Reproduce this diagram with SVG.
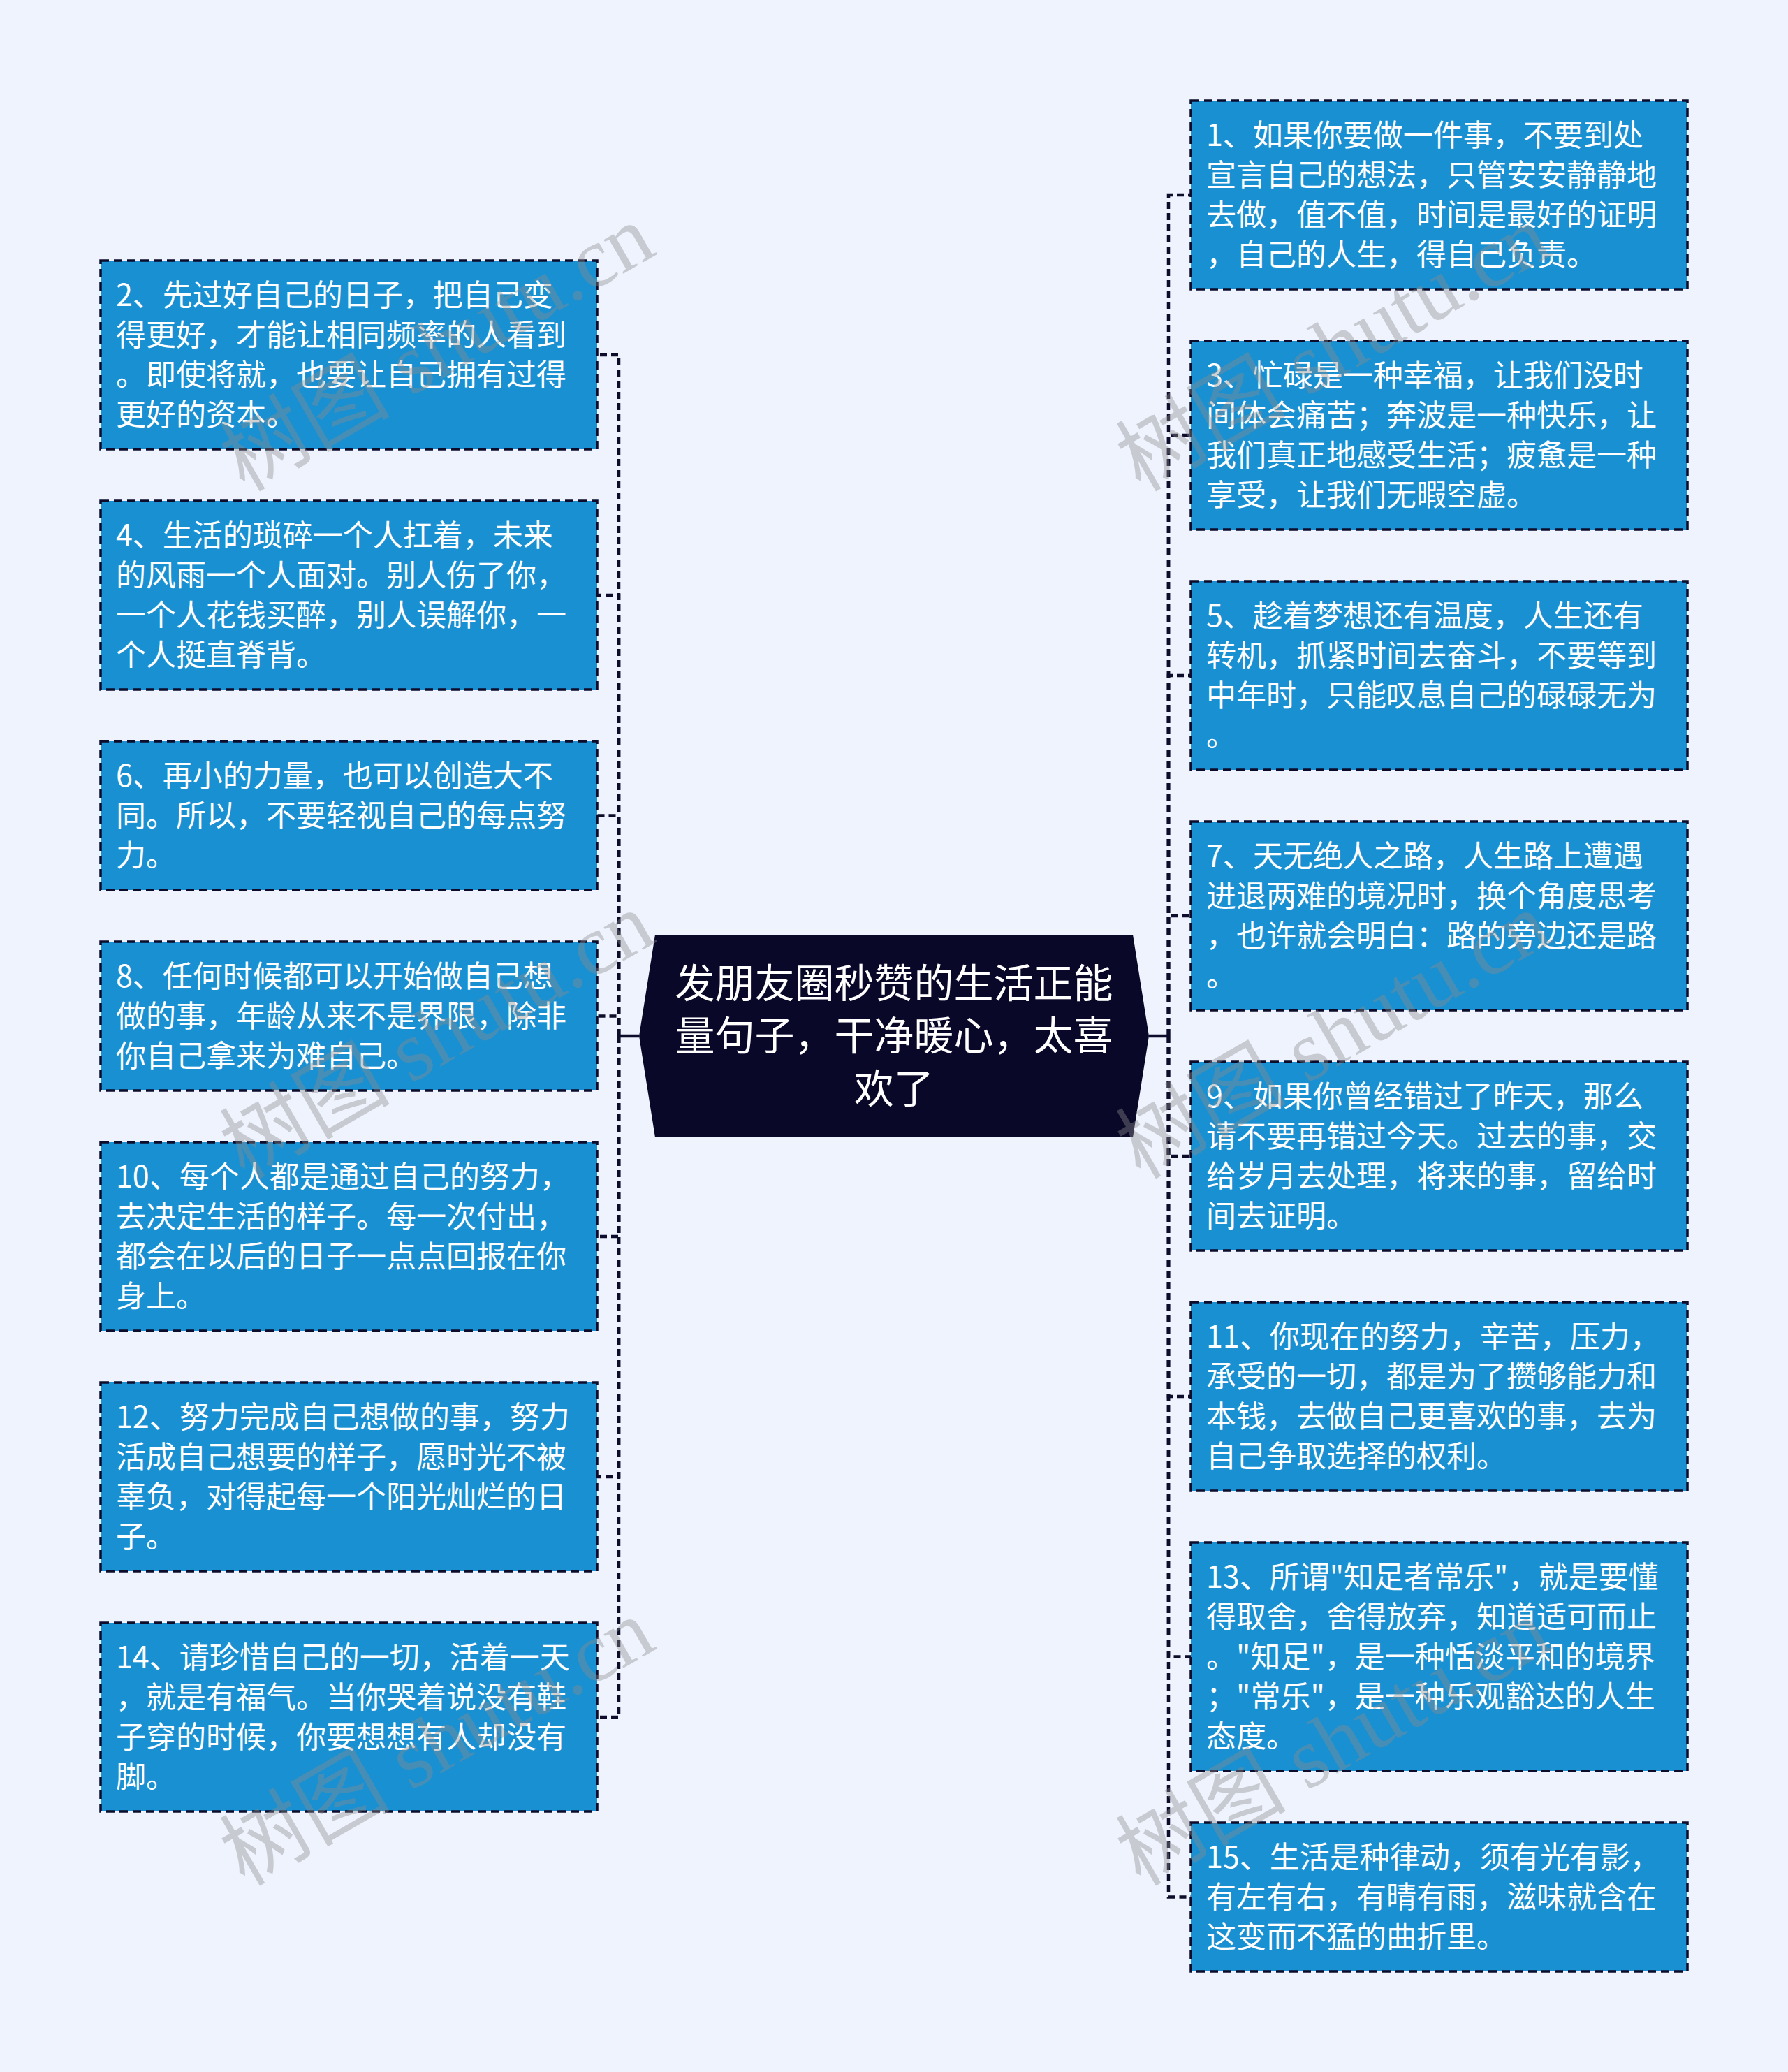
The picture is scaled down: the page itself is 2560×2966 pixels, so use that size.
<svg xmlns="http://www.w3.org/2000/svg" width="2560" height="2966" viewBox="0 0 2560 2966">
<style>
.bg{fill:#EEF3FD}
.box{fill:#1890D2;stroke:#0D0D2B;stroke-width:3.5;stroke-dasharray:12 7}
.t{font-family:"Noto Sans CJK SC","Liberation Sans",sans-serif;font-size:43px;fill:#FFFFFF}
.ct{font-family:"Noto Sans CJK SC","Liberation Sans",sans-serif;font-size:57px;fill:#FFFFFF;text-anchor:middle}
.root{fill:#0A0828}
.conn path{fill:none;stroke:#0D0D2B;stroke-width:4.5;stroke-dasharray:10 6}
.conn .stub{stroke-dasharray:none}
.wm{font-family:"Liberation Serif","Noto Sans CJK SC",serif;font-size:122px;fill:#8C8C8C;fill-opacity:0.4}
</style>
<rect class="bg" x="0" y="0" width="2560" height="2966"/>

<g id="connectors" class="conn">
<path class="stub" d="M915 1483 H886"/>
<path class="stub" d="M1645 1483 H1673"/>
<path d="M886 1483 V508 H855"/>
<path d="M886 1483 V852 H855"/>
<path d="M886 1483 V1167.5 H855"/>
<path d="M886 1483 V1454.5 H855"/>
<path d="M886 1483 V1770 H855"/>
<path d="M886 1483 V2114 H855"/>
<path d="M886 1483 V2458 H855"/>
<path d="M1673 1483 V279 H1705"/>
<path d="M1673 1483 V623 H1705"/>
<path d="M1673 1483 V967 H1705"/>
<path d="M1673 1483 V1311 H1705"/>
<path d="M1673 1483 V1655 H1705"/>
<path d="M1673 1483 V1999 H1705"/>
<path d="M1673 1483 V2371.5 H1705"/>
<path d="M1673 1483 V2715.5 H1705"/>
</g>

<g id="root">
<polygon class="root" points="938,1338 1622,1338 1645,1483 1622,1628 938,1628 915,1483"/>
<text class="ct" x="1280" y="1428">发朋友圈秒赞的生活正能</text>
<text class="ct" x="1280" y="1503">量句子，干净暖心，太喜</text>
<text class="ct" x="1280" y="1579">欢了</text>
</g>

<g id="n1">
<rect class="box" x="1705" y="144" width="711" height="270"/>
<text class="t" x="1727" y="209">1、如果你要做一件事，不要到处</text>
<text class="t" x="1727" y="266">宣言自己的想法，只管安安静静地</text>
<text class="t" x="1727" y="323">去做，值不值，时间是最好的证明</text>
<text class="t" x="1727" y="380">，自己的人生，得自己负责。</text>
</g>
<g id="n3">
<rect class="box" x="1705" y="488" width="711" height="270"/>
<text class="t" x="1727" y="553">3、忙碌是一种幸福，让我们没时</text>
<text class="t" x="1727" y="610">间体会痛苦；奔波是一种快乐，让</text>
<text class="t" x="1727" y="667">我们真正地感受生活；疲惫是一种</text>
<text class="t" x="1727" y="724">享受，让我们无暇空虚。</text>
</g>
<g id="n5">
<rect class="box" x="1705" y="832" width="711" height="270"/>
<text class="t" x="1727" y="897">5、趁着梦想还有温度，人生还有</text>
<text class="t" x="1727" y="954">转机，抓紧时间去奋斗，不要等到</text>
<text class="t" x="1727" y="1011">中年时，只能叹息自己的碌碌无为</text>
<text class="t" x="1727" y="1068">。</text>
</g>
<g id="n7">
<rect class="box" x="1705" y="1176" width="711" height="270"/>
<text class="t" x="1727" y="1241">7、天无绝人之路，人生路上遭遇</text>
<text class="t" x="1727" y="1298">进退两难的境况时，换个角度思考</text>
<text class="t" x="1727" y="1355">，也许就会明白：路的旁边还是路</text>
<text class="t" x="1727" y="1412">。</text>
</g>
<g id="n9">
<rect class="box" x="1705" y="1520" width="711" height="270"/>
<text class="t" x="1727" y="1585">9、如果你曾经错过了昨天，那么</text>
<text class="t" x="1727" y="1642">请不要再错过今天。过去的事，交</text>
<text class="t" x="1727" y="1699">给岁月去处理，将来的事，留给时</text>
<text class="t" x="1727" y="1756">间去证明。</text>
</g>
<g id="n11">
<rect class="box" x="1705" y="1864" width="711" height="270"/>
<text class="t" x="1727" y="1929">11、你现在的努力，辛苦，压力，</text>
<text class="t" x="1727" y="1986">承受的一切，都是为了攒够能力和</text>
<text class="t" x="1727" y="2043">本钱，去做自己更喜欢的事，去为</text>
<text class="t" x="1727" y="2100">自己争取选择的权利。</text>
</g>
<g id="n13">
<rect class="box" x="1705" y="2208" width="711" height="327"/>
<text class="t" x="1727" y="2273">13、所谓"知足者常乐"，就是要懂</text>
<text class="t" x="1727" y="2330">得取舍，舍得放弃，知道适可而止</text>
<text class="t" x="1727" y="2387">。"知足"，是一种恬淡平和的境界</text>
<text class="t" x="1727" y="2444">；"常乐"，是一种乐观豁达的人生</text>
<text class="t" x="1727" y="2501">态度。</text>
</g>
<g id="n15">
<rect class="box" x="1705" y="2609" width="711" height="213"/>
<text class="t" x="1727" y="2674">15、生活是种律动，须有光有影，</text>
<text class="t" x="1727" y="2731">有左有右，有晴有雨，滋味就含在</text>
<text class="t" x="1727" y="2788">这变而不猛的曲折里。</text>
</g>

<g id="n2">
<rect class="box" x="144" y="373" width="711" height="270"/>
<text class="t" x="166" y="438">2、先过好自己的日子，把自己变</text>
<text class="t" x="166" y="495">得更好，才能让相同频率的人看到</text>
<text class="t" x="166" y="552">。即使将就，也要让自己拥有过得</text>
<text class="t" x="166" y="609">更好的资本。</text>
</g>
<g id="n4">
<rect class="box" x="144" y="717" width="711" height="270"/>
<text class="t" x="166" y="782">4、生活的琐碎一个人扛着，未来</text>
<text class="t" x="166" y="839">的风雨一个人面对。别人伤了你，</text>
<text class="t" x="166" y="896">一个人花钱买醉，别人误解你，一</text>
<text class="t" x="166" y="953">个人挺直脊背。</text>
</g>
<g id="n6">
<rect class="box" x="144" y="1061" width="711" height="213"/>
<text class="t" x="166" y="1126">6、再小的力量，也可以创造大不</text>
<text class="t" x="166" y="1183">同。所以，不要轻视自己的每点努</text>
<text class="t" x="166" y="1240">力。</text>
</g>
<g id="n8">
<rect class="box" x="144" y="1348" width="711" height="213"/>
<text class="t" x="166" y="1413">8、任何时候都可以开始做自己想</text>
<text class="t" x="166" y="1470">做的事，年龄从来不是界限，除非</text>
<text class="t" x="166" y="1527">你自己拿来为难自己。</text>
</g>
<g id="n10">
<rect class="box" x="144" y="1635" width="711" height="270"/>
<text class="t" x="166" y="1700">10、每个人都是通过自己的努力，</text>
<text class="t" x="166" y="1757">去决定生活的样子。每一次付出，</text>
<text class="t" x="166" y="1814">都会在以后的日子一点点回报在你</text>
<text class="t" x="166" y="1871">身上。</text>
</g>
<g id="n12">
<rect class="box" x="144" y="1979" width="711" height="270"/>
<text class="t" x="166" y="2044">12、努力完成自己想做的事，努力</text>
<text class="t" x="166" y="2101">活成自己想要的样子，愿时光不被</text>
<text class="t" x="166" y="2158">辜负，对得起每一个阳光灿烂的日</text>
<text class="t" x="166" y="2215">子。</text>
</g>
<g id="n14">
<rect class="box" x="144" y="2323" width="711" height="270"/>
<text class="t" x="166" y="2388">14、请珍惜自己的一切，活着一天</text>
<text class="t" x="166" y="2445">，就是有福气。当你哭着说没有鞋</text>
<text class="t" x="166" y="2502">子穿的时候，你要想想有人却没有</text>
<text class="t" x="166" y="2559">脚。</text>
</g>

<g id="watermarks">
<text class="wm" transform="translate(350,705) rotate(-30)">树图 shutu.cn</text>
<text class="wm" transform="translate(1633,705) rotate(-30)">树图 shutu.cn</text>
<text class="wm" transform="translate(350,1689) rotate(-30)">树图 shutu.cn</text>
<text class="wm" transform="translate(1633,1689) rotate(-30)">树图 shutu.cn</text>
<text class="wm" transform="translate(350,2701) rotate(-30)">树图 shutu.cn</text>
<text class="wm" transform="translate(1633,2701) rotate(-30)">树图 shutu.cn</text>
</g>
</svg>
